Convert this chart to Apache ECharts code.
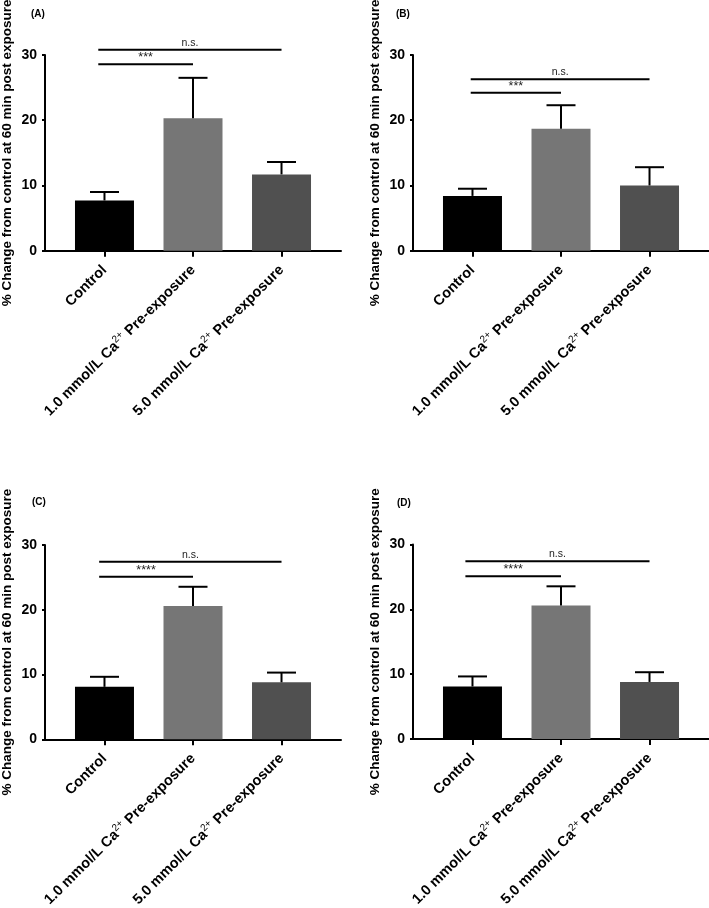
<!DOCTYPE html>
<html>
<head>
<meta charset="utf-8">
<script src="https://cdn.jsdelivr.net/npm/echarts@6/dist/echarts.min.js"></script>
<style>
html,body{margin:0;padding:0;background:#fff;}
#chart{width:709px;height:908px;}
</style>
</head>
<body>
<div id="chart"></div>
<script>
// ---- data ----
const categoryMain = ['Control', '1.0 mmol/L Ca', '5.0 mmol/L Ca'];
const categorySup = ['', '2+', '2+'];
const categoryTail = ['', ' Pre-exposure', ' Pre-exposure'];
const yTicks = [0, 10, 20, 30];
const yAxisTitle = '% Change from control at 60 min post exposure';
const panelLabels = ['(A)', '(B)', '(C)', '(D)'];

const meanA = [7.7, 20.3, 11.7];
const errA = [1.3, 6.2, 1.9];
const meanB = [8.4, 18.7, 10.0];
const errB = [1.1, 3.6, 2.8];
const meanC = [8.1, 20.6, 8.8];
const errC = [1.55, 2.95, 1.5];
const meanD = [8.1, 20.6, 8.8];
const errD = [1.55, 2.95, 1.5];

// significance brackets: [from, to, level, text]
const sigA = [[-0.07, 2.0, 30.8, 'n.s.'], [-0.07, 1.0, 28.6, '***']];
const sigB = [[-0.02, 2.0, 26.3, 'n.s.'], [-0.02, 1.0, 24.2, '***']];
const sigC = [[-0.06, 2.0, 27.4, 'n.s.'], [-0.06, 1.0, 25.1, '****']];
const sigD = [[-0.08, 2.0, 27.4, 'n.s.'], [-0.08, 1.0, 25.1, '****']];

const barColors = ['#000000', '#767676', '#505050'];

const means = [meanA, meanB, meanC, meanD];
const errs = [errA, errB, errC, errD];
const sigs = [sigA, sigB, sigC, sigD];

// ---- layout ----
const grids = [
  {left: 45, top: 55, width: 296, height: 195.7},
  {left: 413, top: 55, width: 296, height: 195.7},
  {left: 45, top: 545, width: 296, height: 194.3},
  {left: 413, top: 544.5, width: 296, height: 194.5}
];
const labelPos = [[31, 9], [396, 9], [32, 497], [397, 498]];

const FONT = "'Liberation Sans', Arial, sans-serif";

const option = {
  backgroundColor: '#ffffff',
  animation: false,
  title: panelLabels.map((t, i) => ({
    text: t, left: labelPos[i][0], top: labelPos[i][1], padding: 0,
    textStyle: {fontSize: 10, fontWeight: 'bold', color: '#000', fontFamily: FONT}
  })),
  grid: grids.map(g => Object.assign({containLabel: false, outerBoundsMode: 'none'}, g)),
  xAxis: grids.map((g, i) => ({
    type: 'value', gridIndex: i, min: -0.672, max: 2.672,
    splitLine: {show: false},
    axisLine: {show: true, onZero: false, lineStyle: {color: '#000', width: 2}},
    axisTick: {show: true, customValues: [0, 1, 2], length: 6, lineStyle: {color: '#000', width: 2}},
    axisLabel: {
      show: true, customValues: [0, 1, 2], rotate: 45, margin: 17,
      formatter: v => {
        const k = Math.round(v);
        let s = '{b|' + categoryMain[k] + '}';
        if (categorySup[k]) s += '{s|' + categorySup[k] + '}';
        if (categoryTail[k]) s += '{b|' + categoryTail[k] + '}';
        return s;
      },
      rich: {
        b: {fontSize: 14.5, fontWeight: 'bold', color: '#000', fontFamily: FONT, lineHeight: 18},
        s: {fontSize: 10, fontWeight: 'normal', color: '#000', fontFamily: FONT, lineHeight: 10, verticalAlign: 'top'}
      }
    }
  })),
  yAxis: grids.map((g, i) => ({
    type: 'value', gridIndex: i, min: 0, max: 30, interval: 10,
    name: yAxisTitle, nameLocation: 'middle', nameGap: 31, nameRotate: 90,
    nameTextStyle: {fontSize: 13.5, fontWeight: 'bold', color: '#000', fontFamily: FONT},
    splitLine: {show: false},
    axisLine: {show: true, onZero: false, lineStyle: {color: '#000', width: 2}},
    axisTick: {show: true, length: 3, lineStyle: {color: '#000', width: 2}},
    axisLabel: {show: true, margin: 8, fontSize: 14, fontWeight: 'bold', color: '#000', fontFamily: FONT,
      formatter: v => (yTicks.indexOf(v) >= 0 ? String(v) : '')}
  })),
  series: []
};

for (let i = 0; i < 4; i++) {
  option.series.push({
    type: 'bar', xAxisIndex: i, yAxisIndex: i, barWidth: 59,
    data: means[i].map((m, k) => ({value: [k, m], itemStyle: {color: barColors[k]}})),
    z: 2
  });
  option.series.push({
    type: 'custom', xAxisIndex: i, yAxisIndex: i, z: 3,
    data: means[i].map((m, k) => [k, m, m + errs[i][k]]),
    renderItem: (params, api) => {
      const base = api.coord([api.value(0), api.value(1)]);
      const top = api.coord([api.value(0), api.value(2)]);
      const st = {stroke: '#000', lineWidth: 2};
      return {type: 'group', children: [
        {type: 'line', shape: {x1: base[0], y1: base[1], x2: top[0], y2: top[1]}, style: st},
        {type: 'line', shape: {x1: top[0] - 14.5, y1: top[1], x2: top[0] + 14.5, y2: top[1]}, style: st}
      ]};
    }
  });
  option.series.push({
    type: 'custom', xAxisIndex: i, yAxisIndex: i, z: 4,
    data: sigs[i],
    renderItem: (params, api) => {
      const p1 = api.coord([api.value(0), api.value(2)]);
      const p2 = api.coord([api.value(1), api.value(2)]);
      const txt = sigs[i][params.dataIndex][3];
      const isStar = txt.charAt(0) === '*';
      return {type: 'group', children: [
        {type: 'line', shape: {x1: p1[0], y1: p1[1], x2: p2[0], y2: p2[1]}, style: {stroke: '#000', lineWidth: 2}},
        {type: 'text', x: (p1[0] + p2[0]) / 2, y: p1[1] - (isStar ? 0 : 1.5),
          style: {text: txt, fill: '#222', fontSize: isStar ? 12.5 : 10.5, fontFamily: FONT, align: 'center', verticalAlign: 'bottom'}}
      ]};
    }
  });
}

const chart = echarts.init(document.getElementById('chart'), null, {renderer: 'canvas'});
chart.setOption(option);
</script>
</body>
</html>
